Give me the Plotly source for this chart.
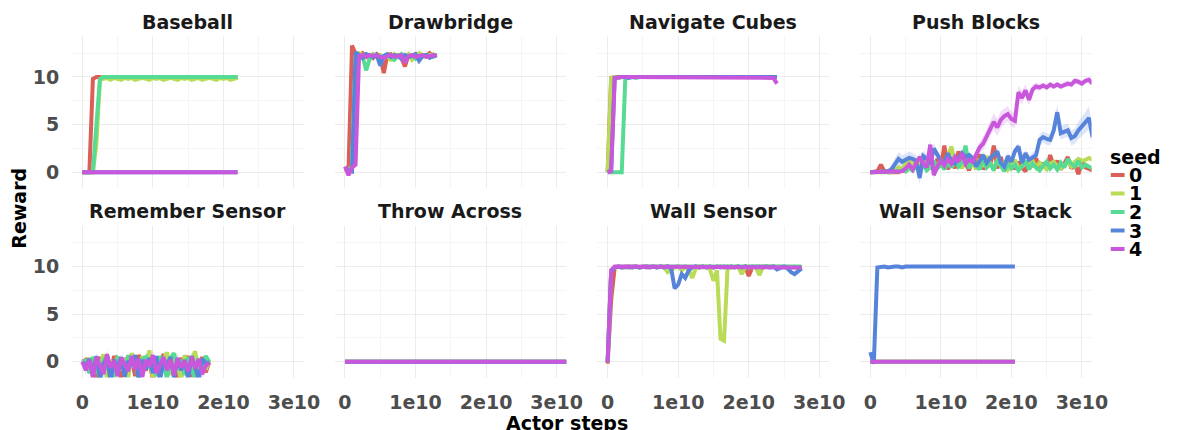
import plotly.graph_objects as go
from plotly.subplots import make_subplots

# ---------------- data (actor steps in units of 1e9) ----------------
STEPS = [0, 0.5, 1, 1.5, 2, 2.5, 3, 3.5, 4, 4.5, 5, 5.5, 6, 6.5, 7, 7.5, 8, 8.5, 9, 9.5,
         10, 10.5, 11, 11.5, 12, 12.5, 13, 13.5, 14, 14.5, 15, 15.5, 16, 16.5, 17, 17.5,
         18, 18.5, 19, 19.5, 20, 20.5, 21, 21.5, 22, 22.5, 23, 23.5, 24, 24.5, 25, 25.5,
         26, 26.5, 27, 27.5, 28, 28.5, 29, 29.5, 30, 30.5, 31, 31.5]

SEEDS = ["0", "1", "2", "3", "4"]
SEED_COLORS = ["#db5f57", "#b9db57", "#57db94", "#5784db", "#c957db"]
PANEL_TITLES = ["Baseball", "Drawbridge", "Navigate Cubes", "Push Blocks",
                "Remember Sensor", "Throw Across", "Wall Sensor", "Wall Sensor Stack"]
X_TICK_VALUES = [0, 1e10, 2e10, 3e10]
X_TICK_LABELS = ["0", "1e10", "2e10", "3e10"]
Y_TICK_VALUES = [0, 5, 10]
Y_TICK_LABELS = ["0", "5", "10"]

# Baseball
BASEBALL_S0 = [0, 0, 0, 9.8, 10.0, 10.0, 9.9, 10.0, 10.0, 10.0, 9.9, 10.0, 10.0, 10.0, 10.0, 9.9,
               10.0, 10.0, 10.0, 10.0, 9.9, 10.0, 10.0, 10.0, 9.9, 10.0, 10.0, 10.0, 10.0, 9.9,
               10.0, 10.0, 10.0, 9.9, 10.0, 10.0, 10.0, 10.0, 9.9, 10.0, 10.0, 10.0, 9.9, 10.0, 10.0]
BASEBALL_S1 = [0, 0, 0, 0, 3.0, 9.7, 9.8, 9.9, 9.7, 9.9, 9.8, 9.7, 9.9, 9.8, 9.9, 9.7, 9.8,
               9.9, 9.8, 9.7, 9.9, 9.8, 9.9, 9.7, 9.8, 9.9, 9.8, 9.7, 9.9, 9.8, 9.9, 9.7, 9.8,
               9.9, 9.7, 9.8, 9.9, 9.8, 9.7, 9.9, 9.8, 9.9, 9.7, 9.8, 9.9]
BASEBALL_S2 = [0, 0, 0, 0, 5.0, 9.8, 10.0, 10.0, 9.9, 10.0, 10.0, 9.9, 10.0, 10.0, 10.0, 9.9,
               10.0, 10.0, 9.9, 10.0, 10.0, 10.0, 9.9, 10.0, 10.0, 9.9, 10.0, 10.0, 10.0, 9.9,
               10.0, 10.0, 9.9, 10.0, 10.0, 10.0, 9.9, 10.0, 10.0, 9.9, 10.0, 10.0, 9.9, 10.0, 10.0]
BASEBALL_FLAT_X = [0, 22.0]
BASEBALL_S3 = [0, 0]
BASEBALL_S4 = [0, 0]

# Drawbridge
DRAWBRIDGE_S0 = [0.2, 0.3, 13.3, 12.4, 12.1, 12.5, 12.2, 12.3, 12.0, 12.4, 12.2, 10.4, 12.3, 12.4,
                 12.1, 12.3, 12.0, 11.1, 12.3, 12.2, 12.4, 12.1, 12.3, 12.2, 12.5, 12.2, 12.3]
DRAWBRIDGE_S1 = [0.1, 0.2, 0.6, 12.1, 12.5, 12.3, 12.2, 11.9, 12.4, 12.2, 12.3, 12.0, 12.3, 11.7,
                 12.4, 12.2, 12.3, 12.1, 12.4, 11.8, 12.2, 12.5, 12.3, 12.1, 12.3, 12.4, 12.2]
DRAWBRIDGE_S2 = [0.3, 0.2, 0.5, 11.8, 12.3, 12.2, 10.7, 11.9, 12.3, 12.1, 12.2, 12.0, 12.3, 12.1,
                 11.8, 12.2, 12.4, 12.0, 12.2, 12.3, 11.9, 12.2, 12.1, 12.3, 12.2, 12.1, 12.3]
DRAWBRIDGE_S3 = [0.5, 0.2, 0.1, 12.6, 12.3, 12.0, 12.4, 12.2, 12.1, 12.3, 11.2, 12.2, 12.4, 12.1,
                 12.3, 12.2, 11.9, 12.3, 12.1, 12.2, 12.4, 11.7, 12.2, 12.3, 12.0, 12.2, 12.3]
DRAWBRIDGE_S4 = [0.6, -0.3, 0.5, 0.8, 12.2, 12.3, 12.1, 12.3, 12.2, 12.3, 12.1, 12.0, 12.2, 12.3,
                 12.1, 12.2, 12.3, 11.5, 12.2, 12.3, 12.1, 12.2, 12.3, 12.1, 12.2, 12.3, 12.2]

# Navigate Cubes
NAV_S0 = [0, 9.9, 10.0, 10.0, 9.9, 10.0, 10.0, 10.0, 9.9, 10.0, 10.0, 10.0, 10.0, 9.9, 10.0, 10.0,
          10.0, 10.0, 10.0, 9.9, 10.0, 10.0, 10.0, 10.0, 9.9, 10.0, 10.0, 10.0, 10.0, 10.0, 9.9,
          10.0, 10.0, 10.0, 10.0, 9.9, 10.0, 10.0, 10.0, 10.0, 10.0, 9.9, 10.0, 10.0, 10.0, 10.0,
          9.9, 10.0, 10.0]
NAV_S1 = [0, 9.9, 10.0, 9.9, 10.0, 10.0, 10.0, 9.9, 10.0, 10.0, 10.0, 9.9, 10.0, 10.0, 10.0, 10.0,
          9.9, 10.0, 10.0, 10.0, 9.9, 10.0, 10.0, 10.0, 10.0, 9.9, 10.0, 10.0, 10.0, 9.9, 10.0,
          10.0, 10.0, 10.0, 9.9, 10.0, 10.0, 10.0, 9.9, 10.0, 10.0, 10.0, 10.0, 9.9, 10.0, 10.0,
          10.0, 9.9, 10.0]
NAV_S2 = [0, 0, 0, 0, 0, 9.8, 10.0, 10.0, 9.9, 10.0, 10.0, 10.0, 9.9, 10.0, 10.0, 10.0, 10.0, 9.9,
          10.0, 10.0, 10.0, 9.9, 10.0, 10.0, 10.0, 10.0, 9.9, 10.0, 10.0, 10.0, 9.9, 10.0, 10.0,
          10.0, 10.0, 9.9, 10.0, 10.0, 10.0, 9.9, 10.0, 10.0, 10.0, 10.0, 9.9, 10.0, 10.0, 10.0, 10.0]
NAV_S3 = [0, 0.2, 9.9, 10.0, 10.0, 10.0, 9.9, 10.0, 10.0, 10.0, 10.0, 9.9, 10.0, 10.0, 10.0, 9.9,
          10.0, 10.0, 10.0, 10.0, 9.9, 10.0, 10.0, 10.0, 9.9, 10.0, 10.0, 10.0, 10.0, 9.9, 10.0,
          10.0, 10.0, 9.9, 10.0, 10.0, 10.0, 10.0, 9.9, 10.0, 10.0, 10.0, 9.9, 10.0, 10.0, 10.0,
          10.0, 9.9, 10.0]
NAV_S4 = [0, 0.1, 9.9, 10.0, 10.0, 10.0, 10.0, 10.0, 10.0, 9.9, 10.0, 10.0, 10.0, 10.0, 10.0, 10.0,
          10.0, 10.0, 10.0, 10.0, 10.0, 9.9, 10.0, 10.0, 10.0, 10.0, 10.0, 10.0, 10.0, 10.0, 10.0,
          10.0, 10.0, 10.0, 10.0, 10.0, 10.0, 9.9, 10.0, 10.0, 10.0, 10.0, 10.0, 10.0, 10.0, 10.0,
          10.0, 9.9, 9.3]

# Push Blocks
PUSH_S0 = [0, 0, 0.1, 0.8, 0.1, 0, 0, 0.1, 0, 0.3, 0.1, 0.5, 0.2, 0.9, 0.3, 1.2, 0.4, 0.8, 0.2,
           1.4, 0.5, 2.8, 0.3, 1.6, 0.4, 2.2, 0.6, 1.0, 0.2, 1.3, 0.5, 1.9, 0.3, 1.2, 0.7, 2.8,
           0.4, 1.6, 0.2, 0.9, 1.4, 0.3, 1.1, 0.5, 0.1, 1.3, 0.6, 1.5, 0.2, 1.0, 0.4, 1.8, 0.6,
           1.2, 0.3, 0.9, 1.6, 0.4, 0.8, -0.2, 1.1, 0.5, 0.3, 0.2]
PUSH_S1 = [0, 0, 0, 0, 0, 0, 0, 0.2, 0.5, 0.3, 0.9, 1.2, 0.7, 1.4, 0.8, 1.1, 0.4, 1.6, 0.9, 0.5,
           1.3, 0.7, 1.8, 2.7, 0.9, 1.2, 0.4, 1.5, 0.8, 1.1, 0.3, 1.4, 0.6, 1.7, 0.9, 0.4, 1.2,
           0.7, 1.0, 0.3, 0.8, 1.3, 0.4, 0.6, 1.1, 0.9, 1.2, 0.5, 1.0, 0.7, 0.3, 0.9, 1.1, 0.6,
           0.4, 0.8, 1.0, 0.6, 1.1, 1.4, 1.2, 1.3, 1.5, 1.3]
PUSH_S2 = [0, 0, 0, 0, 0, 0, 0, 0, 0.1, 0.2, 0.1, 0.4, 0.2, 0.6, 0.3, 0.8, 0.2, 0.5, 1.2, 0.4,
           0.9, 0.3, 1.1, 0.5, 1.5, 0.6, 1.0, 2.8, 0.4, 1.2, 0.7, 0.3, 1.6, 0.5, 0.9, 0.2, 1.3,
           0.6, 0.1, 1.0, 0.4, 0.8, 0.2, 0.6, 1.2, 0.3, 0.9, 0.5, 0.2, 0.7, 1.1, 0.4, 0.8, 0.3,
           1.0, 0.5, 1.4, 0.9, 0.6, 1.2, 0.5, 0.8, 0.6, 0.4]
PUSH_S3 = [0, 0, 0, 0, 0, 0.1, 0.3, 0.9, 1.4, 1.1, 1.3, 1.5, 1.4, 1.2, -0.6, 1.7, 1.4, 0.9, 2.5,
           1.8, 1.2, 1.0, 2.0, 1.1, 0.9, 1.5, 2.0, 1.6, 1.8, 1.5, 0.6, 1.2, 1.8, 1.0, 1.5, 1.8,
           2.2, 1.0, 0.6, 1.7, 1.1, 2.2, 2.7, 1.0, 2.0, 1.3, 1.6, 1.8, 3.4, 3.7, 3.5, 3.4, 4.4,
           6.3, 4.1, 4.3, 4.4, 3.6, 3.8, 4.4, 4.8, 5.2, 5.7, 3.7]
PUSH_S4 = [0, 0, 0, 0, 0, 0, 0, 0, 0, 0.1, 0.4, 0.8, 0.3, 1.0, 1.6, 0.9, 0.5, 2.9, -0.3, 0.6,
           1.2, 0.7, 1.4, 0.9, 1.6, 1.1, 2.0, 0.9, 1.3, 1.1, 1.8, 2.6, 3.0, 3.8, 4.6, 5.3, 4.7,
           5.5, 5.9, 6.1, 5.6, 5.4, 8.4, 7.8, 8.6, 7.6, 8.7, 9.0, 8.9, 9.1, 8.9, 9.2, 9.0, 9.2,
           9.0, 9.2, 9.3, 9.2, 9.6, 9.5, 9.3, 9.6, 9.7, 9.3]
PUSH_BAND_S3 = [0, 0, 0, 0, 0, 0.3, 0.5, 0.6, 0.7, 0.7, 0.6, 0.7, 0.6, 0.6, 0.7, 0.6, 0.5, 0.6,
                0.6, 0.5, 0.5, 0.4, 0.4, 0.4, 0.4, 0.4, 0.4, 0.4, 0.4, 0.4, 0.4, 0.4, 0.4, 0.4,
                0.4, 0.4, 0.4, 0.4, 0.4, 0.4, 0.4, 0.4, 0.4, 0.4, 0.4, 0.4, 0.5, 0.5, 0.6, 0.6,
                0.6, 0.6, 0.7, 0.8, 0.7, 0.7, 0.7, 0.8, 0.8, 0.9, 1.0, 1.1, 1.2, 1.0]
PUSH_BAND_S4 = [0, 0, 0, 0, 0, 0, 0, 0, 0, 0.1, 0.3, 0.3, 0.3, 0.4, 0.4, 0.4, 0.4, 0.5, 0.4, 0.4,
                0.4, 0.4, 0.4, 0.4, 0.5, 0.5, 0.5, 0.5, 0.5, 0.5, 0.6, 0.6, 0.7, 0.8, 0.8, 0.9,
                0.9, 0.9, 0.8, 0.8, 0.8, 0.8, 0.7, 0.7, 0.6, 0.6, 0.5, 0.4, 0.4, 0.3, 0.3, 0.3,
                0.3, 0.3, 0.3, 0.3, 0.3, 0.3, 0.3, 0.3, 0.3, 0.3, 0.3, 0.3]

# Remember Sensor
REMEMBER_S0 = [0, 0.2, -0.8, 0.3, -1.9, 0.5, -0.4, 0.1, -1.2, 0.6, -0.3, -1.8, 0.4, -0.6, 0.2,
               -1.5, 0.7, -0.2, -0.9, 0.3, -2.0, 0.1, -0.5, 0.8, -1.3, 0.2, -0.7, -1.9, 0.4,
               -0.3, 0.6, -1.6, 0.1, -0.8, 0.5, -1.1, 0.0]
REMEMBER_S1 = [0, -0.3, 0.4, -1.5, 0.2, -0.6, 0.8, -1.9, 0.1, -0.4, 0.5, -0.9, 0.3, -1.7, 0.9,
               -0.2, -1.1, 0.6, -0.5, 1.2, -1.8, 0.3, -0.7, 0.2, 1.0, -1.4, 0.4, -0.3, -2.0,
               0.7, -0.6, 0.3, 1.1, -1.2, 0.2, -0.8, 0.1]
REMEMBER_S2 = [0, 0.1, -1.2, 0.5, -0.3, -1.9, 0.2, 0.6, -0.8, -1.6, 0.4, 0.1, -1.3, 0.7, -0.5,
               0.2, -1.9, 0.3, 0.5, -0.7, 0.1, -1.5, 0.6, -0.2, -1.8, 0.4, 0.9, -0.6, 0.2, -1.4,
               0.5, -0.9, -1.7, 0.3, -0.4, 0.6, 0.0]
REMEMBER_S3 = [0, -0.5, 0.3, -1.1, 0.6, -1.8, -0.2, 0.4, -2.0, 0.2, -0.7, 0.5, -1.6, 0.1, -0.4,
               0.7, -1.9, 0.2, -0.8, 0.4, -1.2, 0.6, -2.0, 0.1, -0.3, 0.5, -1.7, 0.3, -0.9, 0.2,
               -1.8, 0.6, -0.5, -1.9, 0.3, -0.2, 0.0]
REMEMBER_S4 = [0, -0.9, 0.2, -1.7, 0.5, -0.4, -1.3, 0.8, -0.6, 0.1, -1.5, 0.4, -0.2, -1.0, 0.6,
               -0.8, 0.3, -1.6, 0.2, -0.5, 0.7, -1.2, -0.3, 0.5, -0.9, 0.2, -1.4, 0.4, -0.6, 0.1,
               -1.0, 0.5, -0.7, 0.3, -1.3, -0.4, -0.1]
REMEMBER_BAND_S4 = [0.2, 0.5, 0.4, 0.6, 0.4, 0.5, 0.6, 0.5, 0.4, 0.5, 0.6, 0.4, 0.5, 0.6, 0.4,
                    0.5, 0.4, 0.6, 0.5, 0.4, 0.6, 0.5, 0.4, 0.5, 0.6, 0.4, 0.5, 0.6, 0.4, 0.5,
                    0.6, 0.4, 0.5, 0.4, 0.6, 0.5, 0.3]

# Throw Across (all seeds flat at zero)
THROW_FLAT_X = [0, 31.5]
THROW_S0 = [0, 0]
THROW_S1 = [0, 0]
THROW_S2 = [0, 0]
THROW_S3 = [0, 0]
THROW_S4 = [0, 0]

# Wall Sensor
WALL_S0 = [-0.2, 6.5, 9.9, 10.0, 9.9, 10.0, 9.9, 10.0, 10.0, 9.9, 10.0, 9.9, 10.0, 10.0, 9.9,
           10.0, 9.9, 10.0, 9.9, 10.0, 10.0, 9.9, 10.0, 9.9, 10.0, 10.0, 9.9, 10.0, 9.9, 10.0,
           9.9, 10.0, 10.0, 9.9, 10.0, 9.9, 10.0, 10.0, 9.9, 10.0, 9.0, 9.9, 10.0, 9.9, 10.0,
           10.0, 9.9, 10.0, 9.9, 10.0, 10.0, 9.9, 10.0, 9.9, 10.0, 9.9]
WALL_S1 = [0, 9.5, 9.9, 10.0, 9.9, 10.0, 10.0, 9.9, 10.0, 9.9, 10.0, 10.0, 9.9, 10.0, 9.9, 10.0,
           9.9, 9.4, 9.6, 9.9, 10.0, 9.6, 9.9, 9.7, 8.8, 9.8, 10.0, 9.9, 10.0, 9.7, 8.5, 9.6,
           2.4, 2.2, 9.8, 10.0, 9.9, 10.0, 9.2, 9.9, 10.0, 9.9, 10.0, 9.1, 9.9, 10.0, 9.9, 10.0,
           9.9, 10.0, 9.9, 10.0, 9.9, 10.0, 9.9, 9.9]
WALL_S2 = [0, 9.6, 9.9, 10.0, 10.0, 9.9, 10.0, 10.0, 10.0, 9.9, 10.0, 10.0, 9.9, 10.0, 10.0,
           10.0, 9.9, 10.0, 10.0, 9.9, 10.0, 10.0, 10.0, 9.9, 10.0, 10.0, 9.9, 10.0, 10.0, 10.0,
           9.9, 10.0, 10.0, 9.9, 10.0, 10.0, 10.0, 9.9, 10.0, 10.0, 9.9, 10.0, 10.0, 10.0, 9.9,
           10.0, 10.0, 9.9, 10.0, 10.0, 10.0, 9.9, 10.0, 10.0, 9.9, 10.0]
WALL_S3 = [0, 9.4, 9.9, 10.0, 9.9, 10.0, 10.0, 9.9, 10.0, 9.9, 10.0, 10.0, 9.9, 10.0, 9.9, 10.0,
           9.9, 10.0, 9.8, 7.7, 8.1, 9.2, 8.8, 9.6, 9.9, 10.0, 9.9, 10.0, 9.9, 10.0, 9.9, 10.0,
           9.9, 10.0, 9.9, 10.0, 9.9, 10.0, 9.9, 10.0, 9.9, 10.0, 9.9, 10.0, 9.9, 10.0, 9.9,
           10.0, 9.7, 9.9, 10.0, 9.8, 9.4, 9.2, 9.5, 9.8]
WALL_S4 = [0, 9.6, 10.0, 10.0, 10.0, 10.0, 10.0, 9.9, 10.0, 10.0, 10.0, 10.0, 10.0, 10.0, 10.0,
           10.0, 9.9, 10.0, 10.0, 10.0, 10.0, 10.0, 10.0, 10.0, 9.9, 10.0, 10.0, 10.0, 10.0,
           10.0, 10.0, 10.0, 10.0, 10.0, 10.0, 9.9, 10.0, 10.0, 10.0, 10.0, 10.0, 10.0, 10.0,
           10.0, 9.9, 10.0, 10.0, 10.0, 10.0, 10.0, 10.0, 9.9, 10.0, 10.0, 10.0, 9.9]

# Wall Sensor Stack
WSS_FLAT_X = [0, 20.5]
WSS_S0 = [0, 0]
WSS_S1 = [0, 0]
WSS_S2 = [0, 0]
WSS_S3 = [1.0, -0.2, 9.9, 10.0, 10.0, 9.9, 10.0, 10.0, 10.0, 9.9, 10.0, 10.0, 10.0, 10.0, 9.9,
          10.0, 10.0, 10.0, 10.0, 10.0, 9.9, 10.0, 10.0, 10.0, 10.0, 10.0, 10.0, 9.9, 10.0,
          10.0, 10.0, 10.0, 10.0, 10.0, 10.0, 9.9, 10.0, 10.0, 10.0, 10.0, 10.0, 10.0]
WSS_S4 = [0, 0]


def steps_for(y):
    return STEPS[:len(y)]


PANELS = [
    [(steps_for(BASEBALL_S0), BASEBALL_S0, None), (steps_for(BASEBALL_S1), BASEBALL_S1, None),
     (steps_for(BASEBALL_S2), BASEBALL_S2, None), (BASEBALL_FLAT_X, BASEBALL_S3, None),
     (BASEBALL_FLAT_X, BASEBALL_S4, None)],
    [(steps_for(s), s, None) for s in [DRAWBRIDGE_S0, DRAWBRIDGE_S1, DRAWBRIDGE_S2,
                                       DRAWBRIDGE_S3, DRAWBRIDGE_S4]],
    [(steps_for(s), s, None) for s in [NAV_S0, NAV_S1, NAV_S2, NAV_S3, NAV_S4]],
    [(steps_for(PUSH_S0), PUSH_S0, None), (steps_for(PUSH_S1), PUSH_S1, None),
     (steps_for(PUSH_S2), PUSH_S2, None), (steps_for(PUSH_S3), PUSH_S3, PUSH_BAND_S3),
     (steps_for(PUSH_S4), PUSH_S4, PUSH_BAND_S4)],
    [(steps_for(REMEMBER_S0), REMEMBER_S0, None), (steps_for(REMEMBER_S1), REMEMBER_S1, None),
     (steps_for(REMEMBER_S2), REMEMBER_S2, None), (steps_for(REMEMBER_S3), REMEMBER_S3, None),
     (steps_for(REMEMBER_S4), REMEMBER_S4, REMEMBER_BAND_S4)],
    [(THROW_FLAT_X, s, None) for s in [THROW_S0, THROW_S1, THROW_S2, THROW_S3, THROW_S4]],
    [(steps_for(s), s, None) for s in [WALL_S0, WALL_S1, WALL_S2, WALL_S3, WALL_S4]],
    [(WSS_FLAT_X, WSS_S0, None), (WSS_FLAT_X, WSS_S1, None), (WSS_FLAT_X, WSS_S2, None),
     (steps_for(WSS_S3), WSS_S3, None), (WSS_FLAT_X, WSS_S4, None)],
]

# ---------------- layout geometry (pixels) ----------------
W, H = 1179, 430
COL_LEFT = [73, 339.5, 606, 872.5]
PANEL_W = 235
ROW_TOP = [36, 225.5]
PANEL_H = 152
X_RANGE = [-0.147e10, 3.136e10]
Y_RANGE = [-1.65, 14.3]

FONT = "DejaVu Sans"
GRID_MAJOR = "#ebebeb"
GRID_MINOR = "#f5f5f5"


def rgba(hex_color, a):
    h = hex_color.lstrip("#")
    return "rgba(%d,%d,%d,%.2f)" % (int(h[0:2], 16), int(h[2:4], 16), int(h[4:6], 16), a)


fig = make_subplots(rows=2, cols=4)

for p, series in enumerate(PANELS):
    row, col = p // 4 + 1, p % 4 + 1
    # ribbons first
    for s, (xs, ys, band) in enumerate(series):
        if band is None:
            continue
        xv = [v * 1e9 for v in xs]
        upper = [y + b for y, b in zip(ys, band)]
        lower = [y - b for y, b in zip(ys, band)]
        fig.add_trace(go.Scatter(x=xv + xv[::-1], y=upper + lower[::-1], fill="toself",
                                 fillcolor=rgba(SEED_COLORS[s], 0.2), line=dict(width=0),
                                 mode="lines", hoverinfo="skip", showlegend=False),
                      row=row, col=col)
    for s, (xs, ys, band) in enumerate(series):
        xv = [v * 1e9 for v in xs]
        fig.add_trace(go.Scatter(x=xv, y=ys, mode="lines", name=SEEDS[s],
                                 line=dict(color=SEED_COLORS[s], width=4),
                                 showlegend=False),
                      row=row, col=col)

tickfont = dict(family=FONT, size=19, color="#4d4d4d", weight="bold")
for p in range(8):
    r, c = p // 4, p % 4
    x0 = COL_LEFT[c] / W
    x1 = (COL_LEFT[c] + PANEL_W) / W
    y1 = 1 - ROW_TOP[r] / H
    y0 = 1 - (ROW_TOP[r] + PANEL_H) / H
    suffix = "" if p == 0 else str(p + 1)
    fig.layout["xaxis" + suffix].update(
        domain=[x0, x1], range=X_RANGE, tickvals=X_TICK_VALUES, ticktext=X_TICK_LABELS,
        showticklabels=(r == 1), showgrid=True, gridcolor=GRID_MAJOR, gridwidth=1.2,
        zeroline=False, showline=False, ticks="outside", ticklen=8,
        tickcolor="rgba(0,0,0,0)", tickfont=tickfont,
        minor=dict(tickvals=[0.5e10, 1.5e10, 2.5e10], showgrid=True,
                   gridcolor=GRID_MINOR, gridwidth=0.8, ticks=""))
    fig.layout["yaxis" + suffix].update(
        domain=[y0, y1], range=Y_RANGE, tickvals=Y_TICK_VALUES, ticktext=Y_TICK_LABELS,
        showticklabels=(c == 0), showgrid=True, gridcolor=GRID_MAJOR, gridwidth=1.2,
        zeroline=False, showline=False, ticks="outside", ticklen=8,
        tickcolor="rgba(0,0,0,0)", tickfont=tickfont,
        minor=dict(tickvals=[2.5, 7.5, 12.5], showgrid=True,
                   gridcolor=GRID_MINOR, gridwidth=0.8, ticks=""))

annotations = []
for p, title in enumerate(PANEL_TITLES):
    r, c = p // 4, p % 4
    annotations.append(dict(text=title, x=(COL_LEFT[c] + PANEL_W / 2) / W,
                            y=1 - (ROW_TOP[r] - 14) / H, xref="paper", yref="paper",
                            showarrow=False, xanchor="center", yanchor="middle",
                            font=dict(family=FONT, size=19, color="#1a1a1a", weight="bold")))
annotations.append(dict(text="Actor steps", x=575 / W, y=1 - 423 / H, xref="paper",
                        yref="paper", showarrow=False, xanchor="center", yanchor="middle",
                        font=dict(family=FONT, size=19, color="#000000", weight="bold")))
annotations.append(dict(text="Reward", x=19 / W, y=1 - 208 / H, xref="paper", yref="paper",
                        showarrow=False, xanchor="center", yanchor="middle", textangle=-90,
                        font=dict(family=FONT, size=19, color="#000000", weight="bold")))
# legend (drawn manually)
annotations.append(dict(text="seed", x=1124 / W, y=1 - 157 / H, xref="paper", yref="paper",
                        showarrow=False, xanchor="left", yanchor="middle",
                        font=dict(family=FONT, size=19, color="#000000", weight="bold")))
shapes = []
LEG_Y = [175, 193.5, 212, 230.5, 249]
for s, label in enumerate(SEEDS):
    ypx = LEG_Y[s]
    shapes.append(dict(type="line", xref="paper", yref="paper", x0=1127 / W, x1=1141 / W,
                       y0=1 - ypx / H, y1=1 - ypx / H,
                       line=dict(color=SEED_COLORS[s], width=4)))
    annotations.append(dict(text=label, x=1143 / W, y=1 - ypx / H, xref="paper",
                            yref="paper", showarrow=False, xanchor="left", yanchor="middle",
                            font=dict(family=FONT, size=19, color="#000000", weight="bold")))

fig.update_layout(width=W, height=H, margin=dict(l=0, r=0, t=0, b=0),
                  paper_bgcolor="white", plot_bgcolor="white", showlegend=False,
                  annotations=annotations, shapes=shapes)

fig.write_html("out.html", config={"displayModeBar": False},
               post_script="document.body.style.margin='0px';"
                           "document.body.style.overflow='hidden';")
